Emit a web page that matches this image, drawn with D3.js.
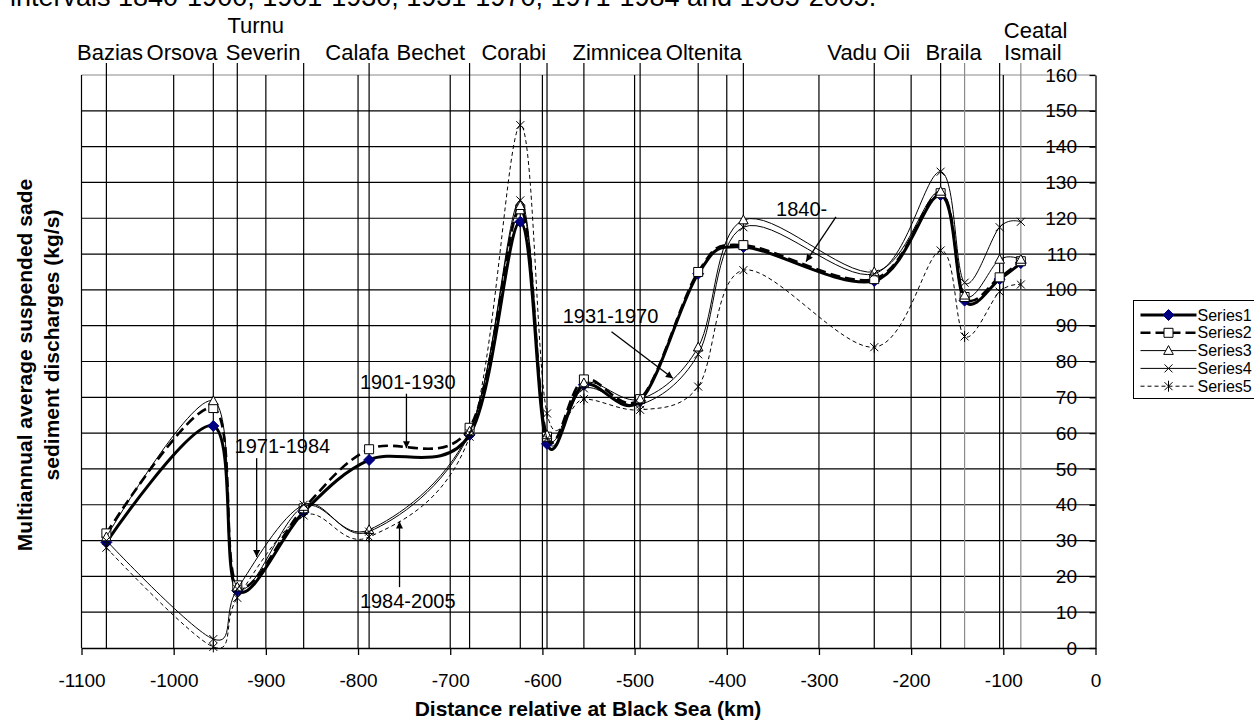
<!DOCTYPE html>
<html lang="en">
<head>
<meta charset="utf-8">
<title>Suspended sediment discharges along the Danube</title>
<script src="https://d3js.org/d3.v7.min.js"></script>
<style>
  body { margin: 0; background: #fff; }
  svg text { font-family: "Liberation Sans", Arial, sans-serif; fill: #000; }
</style>
</head>
<body>
<script>
// distance of each gauging station from the Black Sea (km)
const stationKm = [-1073, -957, -931, -859, -788, -679, -624, -595, -555, -494, -431, -382, -240, -168, -142, -104, -81];

// multiannual average suspended sediment discharge (kg/s), one value per station
const series1 = [29.5, 62, 16, 38, 52.5, 59.5, 119, 57, 73.5, 69, 104.5, 112, 102.5, 126.5, 97, 103, 107.5];
const series2 = [32, 67, 17.5, 39, 55.5, 61.5, 122.5, 59, 75, 69.5, 105, 112.5, 103, 127, 98, 103.5, 108];
const series3 = [31, 69, 17, 39.5, 33, 60.5, 123.5, 59.5, 74, 69.5, 84, 119.5, 105, 127.5, 98.5, 108.5, 108.5];
const series4 = [30, 2.5, 16.5, 40, 32.5, 60, 125, 58.5, 72.5, 68, 82, 117.5, 104.5, 133, 102, 117.5, 119];
const series5 = [28, 0.3, 14, 37, 31, 59, 146, 65.5, 69.5, 66.5, 73, 105.5, 84, 111, 87, 99.5, 101.5];

const seriesNames = ["Series1", "Series2", "Series3", "Series4", "Series5"];

const xTicks = [-1100, -1000, -900, -800, -700, -600, -500, -400, -300, -200, -100, 0];
const yTicks = [0, 10, 20, 30, 40, 50, 60, 70, 80, 90, 100, 110, 120, 130, 140, 150, 160];

// station names written above the plot (label text, km where it is centred, row)
const stationLabels = ["Bazias", "Orsova", "Turnu", "Severin", "Calafa", "Bechet", "Corabi",
                       "Zimnicea", "Oltenita", "Vadu Oii", "Braila", "Ceatal", "Ismail"];
const stationLabelKm = [-1069, -991, -911, -903, -801, -721, -631, -519, -425, -246, -154, -65, -68];
const stationLabelRow = [2, 2, 1, 2, 2, 2, 2, 2, 2, 2, 2, 1, 2];

// period notes with arrows (km / kg/s coordinates)
const notes = [
  {text: "1971-1984", at: [-934, 54.5], from: [-910, 53], to: [-910, 25.4]},
  {text: "1901-1930", at: [-798, 72.2], from: [-747.5, 71], to: [-747.5, 55.8]},
  {text: "1984-2005", at: [-798, 11.3], from: [-755, 17], to: [-755, 35.3]},
  {text: "1931-1970", at: [-578, 90.8], from: [-525, 88.3], to: [-458.5, 75.3]},
  {text: "1840-", at: [-346.5, 120.6], from: [-281.5, 120.4], to: [-314, 107.9]}
];

const width = 1254;
const height = 720;
const svg = d3.select("body").append("svg")
              .attr("width", width)
              .attr("height", height);

const x = d3.scaleLinear().domain([-1100, 0]).range([81.5, 1095.5]);
const y = d3.scaleLinear().domain([0, 160]).range([648, 75]);

// title line cut off by the top of the picture
svg.append("text")
   .attr("x", 10).attr("y", 6)
   .attr("font-size", 27)
   .text("intervals 1840-1900, 1901-1930, 1931-1970, 1971-1984 and 1985-2005.");

svg.append("defs").append("marker")
   .attr("id", "arrow")
   .attr("viewBox", "0 0 10 10")
   .attr("refX", 10).attr("refY", 5)
   .attr("markerWidth", 10).attr("markerHeight", 7)
   .attr("markerUnits", "userSpaceOnUse")
   .attr("orient", "auto")
   .append("path").attr("d", "M0,0L10,5L0,10Z").attr("fill", "#000");

//gridlines
const grid = svg.append("g");
grid.selectAll(".hgrid")
    .data(yTicks.filter(d => d > 0 && d < 160))
    .join("line")
    .attr("x1", x(-1100)).attr("x2", x(0))
    .attr("y1", d => y(d)).attr("y2", d => y(d))
    .attr("stroke", "#000").attr("stroke-width", 1.2);

grid.append("line")
    .attr("x1", x(-1100)).attr("x2", x(0))
    .attr("y1", y(160)).attr("y2", y(160))
    .attr("stroke", "#8a8a8a").attr("stroke-width", 1.2);

grid.selectAll(".vgrid")
    .data(xTicks.filter(d => d < 0))
    .join("line")
    .attr("x1", d => x(d)).attr("x2", d => x(d))
    .attr("y1", y(0)).attr("y2", y(160))
    .attr("stroke", "#000").attr("stroke-width", 1.2);

// one vertical line per station, poking out above the plot
const greyStations = [-142, -81];
grid.selectAll(".station")
    .data(stationKm)
    .join("line")
    .attr("x1", d => x(d)).attr("x2", d => x(d))
    .attr("y1", 63).attr("y2", y(0))
    .attr("stroke", d => greyStations.includes(d) ? "#8a8a8a" : "#000")
    .attr("stroke-width", 1.2);

// station names
svg.append("g").selectAll("text")
   .data(stationLabels)
   .join("text")
   .attr("x", (d, i) => x(stationLabelKm[i]))
   .attr("y", (d, i) => stationLabelRow[i] === 1 ? (d === "Ceatal" ? 38 : 33) : 60)
   .attr("text-anchor", "middle")
   .attr("font-size", 22)
   .text(d => d);

//axes
const xAxis = svg.append("g")
   .attr("transform", `translate(0,${y(0)})`)
   .call(d3.axisBottom(x).tickValues(xTicks).tickFormat(d => String(d))
           .tickSize(7).tickSizeOuter(0).tickPadding(18.5));
xAxis.selectAll("text").attr("font-size", 19).attr("font-family", null);
xAxis.selectAll("line, path").attr("stroke", "#000").attr("stroke-width", 1.3);

const yAxis = svg.append("g")
   .attr("transform", `translate(${x(0)},0)`)
   .call(d3.axisLeft(y).tickValues(yTicks).tickFormat(d => String(d))
           .tickSize(6).tickSizeOuter(0).tickPadding(12.5));
yAxis.selectAll("text").attr("font-size", 19).attr("font-family", null);
yAxis.selectAll("line, path").attr("stroke", "#000").attr("stroke-width", 1.3);

// axis titles
svg.append("text")
   .attr("x", 588).attr("y", 716)
   .attr("text-anchor", "middle")
   .attr("font-size", 21).attr("font-weight", "bold")
   .text("Distance relative at Black Sea (km)");

svg.append("text")
   .attr("transform", "translate(32,365) rotate(-90)")
   .attr("text-anchor", "middle")
   .attr("font-size", 21).attr("font-weight", "bold")
   .text("Multiannual average suspended sade");
svg.append("text")
   .attr("transform", "translate(59,345) rotate(-90)")
   .attr("text-anchor", "middle")
   .attr("font-size", 21).attr("font-weight", "bold")
   .text("sediment discharges (kg/s)");

// series look: smoothed lines like the spreadsheet chart
const markerPath = {
  diamond: "M0,-5.5L5.5,0L0,5.5L-5.5,0Z",
  square: "M-4.5,-4.5H4.5V4.5H-4.5Z",
  triangle: "M0,-5L4.8,3.8H-4.8Z",
  cross: "M-4,-4L4,4M-4,4L4,-4",
  star: "M-4,-4L4,4M-4,4L4,-4M0,-5.5V5.5"
};
const styles = [
  {width: 3, dash: null, marker: "diamond", fill: "#000080", stroke: "#000080"},
  {width: 2.6, dash: "10,5", marker: "square", fill: "#fff", stroke: "#000"},
  {width: 1, dash: null, marker: "triangle", fill: "#fff", stroke: "#000"},
  {width: 1, dash: null, marker: "cross", fill: "none", stroke: "#000"},
  {width: 1, dash: "4,3", marker: "star", fill: "none", stroke: "#000"}
];

const allSeries = [series1, series2, series3, series4, series5];
const line = d3.line()
               .x(d => x(d[0]))
               .y(d => y(d[1]))
               .curve(d3.curveCardinal.tension(0));

const plot = svg.append("g");
allSeries.forEach((vals, i) => {
  const pts = stationKm.map((k, j) => [k, vals[j]]);
  const st = styles[i];
  plot.append("path")
      .datum(pts)
      .attr("d", line)
      .attr("fill", "none")
      .attr("stroke", "#000")
      .attr("stroke-width", st.width)
      .attr("stroke-dasharray", st.dash);
  plot.append("g").selectAll("path")
      .data(pts)
      .join("path")
      .attr("transform", d => `translate(${x(d[0])},${y(d[1])})`)
      .attr("d", markerPath[st.marker])
      .attr("fill", st.fill)
      .attr("stroke", st.stroke)
      .attr("stroke-width", 1);
});

// period notes
const ann = svg.append("g");
notes.forEach(n => {
  ann.append("text")
     .attr("x", x(n.at[0])).attr("y", y(n.at[1]))
     .attr("font-size", 20)
     .text(n.text);
  ann.append("line")
     .attr("x1", x(n.from[0])).attr("y1", y(n.from[1]))
     .attr("x2", x(n.to[0])).attr("y2", y(n.to[1]))
     .attr("stroke", "#000").attr("stroke-width", 1.3)
     .attr("marker-end", "url(#arrow)");
});

//legend
const legend = svg.append("g").attr("transform", "translate(1133.5,300.5)");
legend.append("rect")
      .attr("width", 200).attr("height", 98)
      .attr("fill", "#fff").attr("stroke", "#000");
const item = legend.selectAll(".item")
      .data(seriesNames)
      .join("g")
      .attr("transform", (d, i) => `translate(0,${14.5 + i * 17.8})`);
item.append("line")
    .attr("x1", 7).attr("x2", 63)
    .attr("stroke", "#000")
    .attr("stroke-width", (d, i) => styles[i].width)
    .attr("stroke-dasharray", (d, i) => styles[i].dash);
item.append("path")
    .attr("transform", "translate(35,0)")
    .attr("d", (d, i) => markerPath[styles[i].marker])
    .attr("fill", (d, i) => styles[i].fill)
    .attr("stroke", (d, i) => styles[i].stroke);
item.append("text")
    .attr("x", 64).attr("dy", "0.35em")
    .attr("font-size", 16)
    .text(d => d);
</script>
</body>
</html>
